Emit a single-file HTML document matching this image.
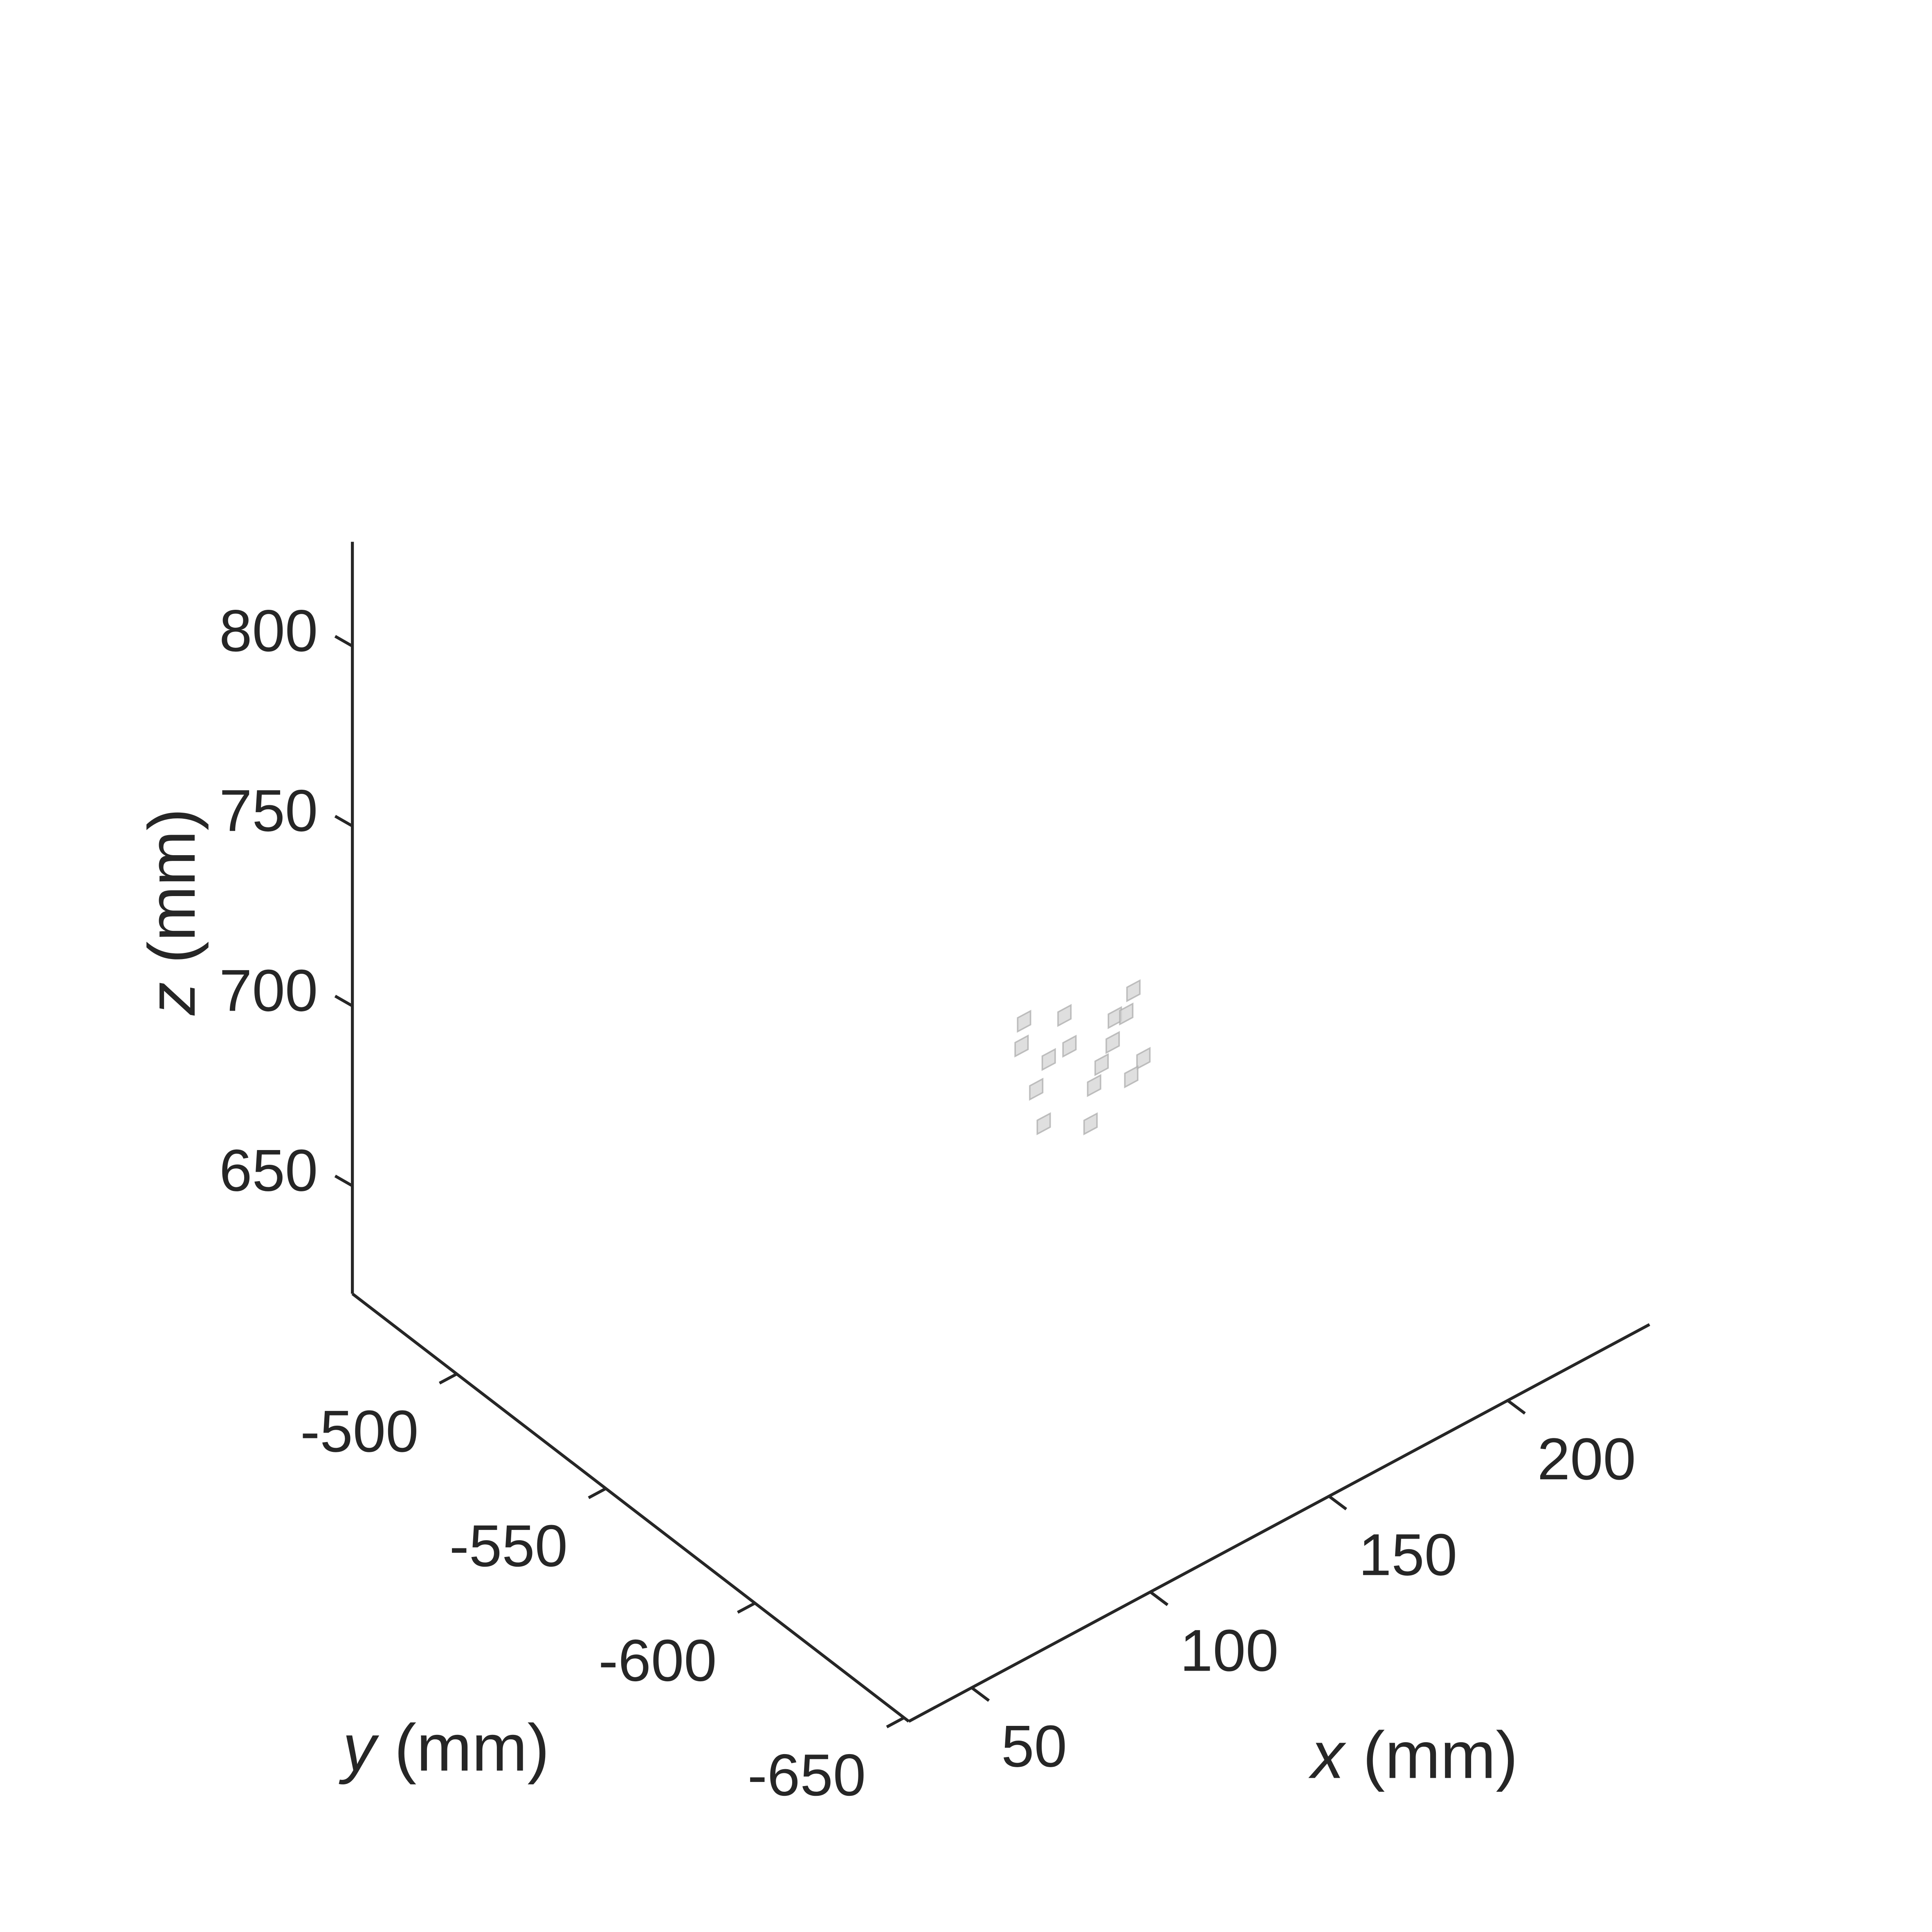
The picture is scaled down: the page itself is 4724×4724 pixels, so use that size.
<!DOCTYPE html>
<html><head><meta charset="utf-8"><style>
html,body{margin:0;padding:0;background:#fff;}
svg{display:block;}
text{font-family:"Liberation Sans",Arial,sans-serif;fill:#262626;}
</style></head><body>
<svg id="chart" width="4724" height="4724" viewBox="0 0 1568 1568" xmlns="http://www.w3.org/2000/svg">
<g id="axes"></g>
<g id="marks"></g>
<g id="labels">
<text transform="translate(158,740) rotate(-90)" text-anchor="middle" font-size="54"><tspan font-style="italic">z</tspan> (mm)</text>
<text x="362" y="1437" text-anchor="middle" font-size="54"><tspan font-style="italic">y</tspan> (mm)</text>
<text x="1148" y="1443" text-anchor="middle" font-size="54"><tspan font-style="italic">x</tspan> (mm)</text>
</g>
</svg>
<script>
const xTicks=[50,100,150,200];
const yTicks=[-500,-550,-600,-650];
const zTicks=[650,700,750,800];
const sqX=[171.7,141.1,152.4,166.5,169.7,140.4,153.8,165.9,148.0,162.8,174.5,171.1,144.5,160.7,146.6,159.7];
const sqY=[-560,-560,-560,-560,-560,-560,-560,-560,-560,-560,-560,-560,-560,-560,-560,-560];
const sqZ=[690.6,698.4,694.0,685.9,685.2,691.9,684.7,679.3,684.1,674.8,670.3,667.0,677.7,670.1,667.0,660.0];
const xMin=32.4,xMax=239.7,yMin=-651.6,yMax=-465,zMin=620,zMax=829;
const NS='http://www.w3.org/2000/svg';
function P(x,y,z){
  return [286+(x-xMin)*2.9+(y-yMax)*(-2.42),
          1050+(x-xMin)*(-1.554)+(y-yMax)*(-1.86)+(z-zMin)*(-2.92)];
}
function line(g,a,b,name){
  const l=document.createElementNS(NS,'line');
  l.setAttribute('x1',a[0]);l.setAttribute('y1',a[1]);l.setAttribute('x2',b[0]);l.setAttribute('y2',b[1]);
  l.setAttribute('stroke','#262626');l.setAttribute('stroke-width','2.4');
  
  
  g.appendChild(l);
}
function txt(g,s,x,y,anchor,name){
  const t=document.createElementNS(NS,'text');
  t.setAttribute('x',x);t.setAttribute('y',y);t.setAttribute('text-anchor',anchor);t.setAttribute('font-size','48');
  t.textContent=s;
  
  
  g.appendChild(t);
}
const ax=document.getElementById('axes');
line(ax,P(xMin,yMax,zMin),P(xMin,yMax,zMax),'z-axis-line');
line(ax,P(xMin,yMax,zMin),P(xMin,yMin,zMin),'y-axis-line');
line(ax,P(xMin,yMin,zMin),P(xMax,yMin,zMin),'x-axis-line');
zTicks.forEach(v=>{const a=P(xMin,yMax,v);line(ax,a,[a[0]-14,a[1]-8],'z-tick');txt(ax,String(v),a[0]-28,a[1]+4,'end','z-tick-label');});
yTicks.forEach(v=>{const a=P(xMin,v,zMin);line(ax,a,[a[0]-14,a[1]+7.5],'y-tick');txt(ax,String(v),a[0]-79,a[1]+63,'middle','y-tick-label');});
xTicks.forEach(v=>{const a=P(v,yMin,zMin);line(ax,a,[a[0]+14,a[1]+10.5],'x-tick');txt(ax,String(v),a[0]+24,a[1]+64,'start','x-tick-label');});
const mk=document.getElementById('marks');
const h=1.8,hz=1.9;
for(let i=0;i<sqX.length;i++){
  const x=sqX[i],y=sqY[i],z=sqZ[i];
  const pts=[P(x-h,y,z-hz),P(x-h,y,z+hz),P(x+h,y,z+hz),P(x+h,y,z-hz)];
  const p=document.createElementNS(NS,'polygon');
  p.setAttribute('points',pts.map(q=>q.join(',')).join(' '));
  p.setAttribute('fill','#d4d4d4');p.setAttribute('fill-opacity','0.75');
  p.setAttribute('stroke','#b0b0b0');p.setAttribute('stroke-width','1.2');p.setAttribute('stroke-opacity','0.8');
  
  
  mk.appendChild(p);
}
</script>
</body></html>
